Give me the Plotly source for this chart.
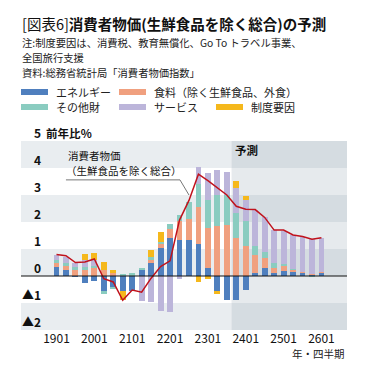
import plotly.graph_objects as go

# ---- data (year-on-year %, contribution in %pt) ----
quarters = ["1901","1902","1903","1904","2001","2002","2003","2004",
            "2101","2102","2103","2104","2201","2202","2203","2204",
            "2301","2302","2303","2304","2401","2402","2403","2404",
            "2501","2502","2503","2504","2601"]
tick_labels = ["1901","2001","2101","2201","2301","2401","2501","2601"]

energy   = [0.35, 0.22, -0.04, -0.27, -0.17, -0.54, -0.42, -0.55, -0.55, 0.22, 0.48, 1.05, 1.42, 1.33, 1.35,
            1.20, 0.30, -0.55, -0.90, -0.90, -0.52, 0.10, 0.28, 0.10, 0.20, 0.16, 0.12, 0.05, 0.10]
food     = [0.12, 0.15, 0.22, 0.22, 0.28, 0.22, 0.12, 0.00, 0.00, 0.00, 0.12, 0.14, 0.33, 0.72, 0.75,
            1.35, 1.48, 1.84, 1.90, 1.41, 1.12, 0.68, 0.37, 0.19, 0.17, 0.06, 0.03, 0.03, 0.04]
other    = [0.12, 0.12, 0.12, 0.12, 0.10, -0.12, -0.06, 0.08, 0.10, 0.07, 0.12, 0.06, 0.17, 0.20, 0.65,
            0.84, 1.05, 1.17, 1.11, 0.93, 0.90, 0.33, 0.25, 0.19, 0.07, 0.04, 0.00, -0.05, 0.00]
services = [0.19, 0.20, 0.15, 0.24, 0.20, 0.00, 0.00, 0.00, 0.00, -0.92, -0.98, -1.30, -1.32, -0.12, 0.00,
            0.65, 0.99, 0.93, 0.86, 0.93, 0.80, 1.33, 1.30, 1.23, 1.23, 1.26, 1.28, 1.30, 1.28]
policy   = [0.00, 0.00, 0.00, 0.23, 0.26, 0.31, 0.12, -0.35, 0.00, 0.00, 0.25, 0.37, 0.00, 0.00, 0.00,
            -0.23, -0.11, -0.10, 0.00, 0.25, 0.15, 0.00, 0.00, 0.00, 0.00, 0.00, 0.00, 0.00, 0.00]
core_cpi = [0.80, 0.75, 0.50, 0.52, 0.63, -0.10, -0.22, -0.90, -0.52, -0.60, -0.08, 0.35, 0.56, 2.07, 2.80,
            3.77, 3.53, 3.27, 3.00, 2.58, 2.47, 2.46, 2.17, 1.70, 1.70, 1.52, 1.46, 1.36, 1.42]

series_names = ["エネルギー", "食料（除く生鮮食品、外食）", "その他財", "サービス", "制度要因"]
series_vals = [energy, food, other, services, policy]
colors = ["#4f7fbe", "#f0a07f", "#8accc0", "#bcb5da", "#f5b81c"]
forecast_start = "2304"
y_ticks = [5, 4, 3, 2, 1, 0, -1, -2]
y_tick_text = ["5", "4", "3", "2", "1", "0", "▲1", "▲2"]

FONT = "Noto Sans CJK JP"
W, H = 369, 377
L, R, T, B = 21, 22, 141, 47
pw, ph = W - L - R, H - T - B


def px(xp):
    return (xp - L) / pw


def py(yp):
    return (H - B - yp) / ph


x = list(range(len(quarters)))
xmin, xmax = -3.75, 30.7
fc = quarters.index(forecast_start) - 0.5

fig = go.Figure()
for name, vals, col in zip(series_names, series_vals, colors):
    fig.add_trace(go.Bar(x=x, y=vals, name=name, marker=dict(color=col, line=dict(width=0)),
                         width=0.62, hoverinfo="skip", showlegend=False))
fig.add_trace(go.Scatter(x=x, y=core_cpi, mode="lines", line=dict(color="#c0121c", width=1.5),
                         hoverinfo="skip", showlegend=False))

shapes = []
# background bands
for lo in [4, 2, 0, -2]:
    shapes.append(dict(type="rect", xref="x", yref="y", x0=xmin, x1=fc, y0=lo, y1=lo + 1,
                       fillcolor="#e9edf0", line=dict(width=0), layer="below"))
shapes.append(dict(type="rect", xref="x", yref="y", x0=fc, x1=xmax, y0=-2, y1=5,
                   fillcolor="#e6eaed", line=dict(width=0), layer="below"))
for lo in [4, 2, 0, -2]:
    shapes.append(dict(type="rect", xref="x", yref="y", x0=fc, x1=xmax, y0=lo, y1=lo + 1,
                       fillcolor="#d5dce1", line=dict(width=0), layer="below"))
# zero line
shapes.append(dict(type="line", xref="x", yref="y", x0=xmin, x1=xmax, y0=0, y1=0,
                   line=dict(color="#111", width=1.2), layer="above"))
# leader line for label
shapes.append(dict(type="path", xref="x", yref="y",
                   path="M 1.0 3.56 L 13.05 3.56 L 14.0 3.0",
                   line=dict(color="#777", width=1), layer="above"))

annotations = []
# custom legend
col_x = [21, 119, 216]
row_y = [92, 107]
pos = [(0, 0), (1, 0), (0, 1), (1, 1), (2, 1)]
for (c, r), name, col in zip(pos, series_names, colors):
    x0 = col_x[c]
    yc = row_y[r]
    shapes.append(dict(type="rect", xref="paper", yref="paper",
                       x0=px(x0), x1=px(x0 + 27), y0=py(yc + 3), y1=py(yc - 3),
                       fillcolor=col, line=dict(width=0)))
    annotations.append(dict(xref="paper", yref="paper", x=px(x0 + 33), y=py(yc),
                            text=name, showarrow=False, xanchor="left", yanchor="middle",
                            font=dict(size=11, color="#222", family=FONT)))

# title & notes
annotations.append(dict(xref="paper", yref="paper", x=px(20), y=py(23.5),
                        text="[図表6]<b>消費者物価(生鮮食品を除く総合)の予測</b>",
                        showarrow=False, xanchor="left", yanchor="middle",
                        font=dict(size=14.5, color="#111", family=FONT)))
notes = [("注:制度要因は、消費税、教育無償化、Go To トラベル事業、", 42),
         ("全国旅行支援", 57.2),
         ("資料:総務省統計局「消費者物価指数」", 72.4)]
for t, yc in notes:
    annotations.append(dict(xref="paper", yref="paper", x=px(20), y=py(yc), text=t,
                            showarrow=False, xanchor="left", yanchor="middle",
                            font=dict(size=10.3, color="#222", family=FONT)))

# y tick labels inside the plot
for v, t in zip(y_ticks, y_tick_text):
    annotations.append(dict(xref="paper", yref="y", x=px(43), y=v, text="<b>%s</b>" % t,
                            showarrow=False, xanchor="right", yanchor="bottom", yshift=-2,
                            font=dict(size=12, color="#111", family=FONT)))
annotations.append(dict(xref="paper", yref="y", x=px(44), y=5, text="<b>前年比％</b>",
                        showarrow=False, xanchor="left", yanchor="bottom", yshift=-2,
                        font=dict(size=11.5, color="#111", family=FONT)))
annotations.append(dict(xref="x", yref="y", x=fc + 0.2, y=4.67, text="<b>予測</b>",
                        showarrow=False, xanchor="left", yanchor="middle",
                        font=dict(size=11.5, color="#111", family=FONT)))
annotations.append(dict(xref="x", yref="y", x=1.0, y=4.48, text="消費者物価",
                        showarrow=False, xanchor="left", yanchor="middle",
                        font=dict(size=10.5, color="#111", family=FONT)))
annotations.append(dict(xref="x", yref="y", x=0.75, y=3.9, text="（生鮮食品を除く総合）",
                        showarrow=False, xanchor="left", yanchor="middle",
                        font=dict(size=10.5, color="#111", family=FONT)))
annotations.append(dict(xref="paper", yref="paper", x=1.0, y=py(353), text="年・四半期",
                        showarrow=False, xanchor="right", yanchor="middle",
                        font=dict(size=10.5, color="#222", family=FONT)))

fig.update_layout(
    width=W, height=H, margin=dict(l=L, r=R, t=T, b=B, autoexpand=False),
    paper_bgcolor="white", plot_bgcolor="white",
    barmode="relative", bargap=0, hovermode=False,
    font=dict(family=FONT, color="#111"),
    xaxis=dict(range=[xmin, xmax], tickmode="array",
               tickvals=[quarters.index(t) for t in tick_labels], ticktext=tick_labels,
               showgrid=False, zeroline=False, showline=False, ticks="",
               tickfont=dict(size=12, color="#111", family=FONT), fixedrange=True),
    yaxis=dict(range=[-2, 5], showticklabels=False, showgrid=False, zeroline=False,
               showline=False, ticks="", fixedrange=True),
)
fig.layout.shapes = shapes
fig.layout.annotations = annotations
fig.write_html("out.html", config={"displayModeBar": False, "staticPlot": True},
               post_script="document.body.style.margin='0';document.body.style.overflow='hidden';")
